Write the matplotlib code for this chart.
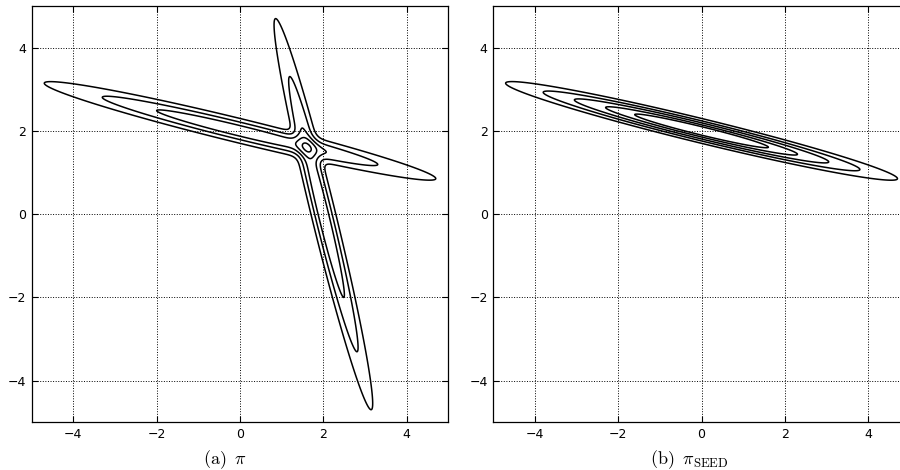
import numpy as np
import matplotlib
matplotlib.use("Agg")
import matplotlib.pyplot as plt

plt.rcParams['mathtext.fontset'] = 'cm'

# two elongated gaussian components (peak normalised to 1)
mean_x = [0.0, 2.0]
mean_y = [2.0, 0.0]
angle_deg = [-13.75, -76.25]
sigma_major = [2.5, 2.5]
sigma_minor = [0.15, 0.15]
weights_a = [0.5, 0.5]

# contour levels
levels_a = [0.077, 0.198, 0.356, 0.53, 0.73]
levels_b = [0.1535, 0.294, 0.454, 0.638, 0.804]

ticks = [-4, -2, 0, 2, 4]
captions = [r'$\mathrm{(a)}\;\;\pi$', r'$\mathrm{(b)}\;\;\pi_{\mathrm{SEED}}$']


def component(X, Y, i):
    th = np.deg2rad(angle_deg[i])
    dx, dy = X - mean_x[i], Y - mean_y[i]
    u = dx * np.cos(th) + dy * np.sin(th)
    v = -dx * np.sin(th) + dy * np.cos(th)
    return np.exp(-0.5 * ((u / sigma_major[i]) ** 2 + (v / sigma_minor[i]) ** 2))


g = np.linspace(-5, 5, 1200)
X, Y = np.meshgrid(g, g)
Z_a = weights_a[0] * component(X, Y, 0) + weights_a[1] * component(X, Y, 1)
Z_b = component(X, Y, 0)

fig = plt.figure(figsize=(9, 4.7), dpi=100)
ax1 = fig.add_axes([0.0352, 0.1015, 0.463, 0.8857])
ax2 = fig.add_axes([0.548, 0.1015, 0.463, 0.8857])

for ax, Z, lev in [(ax1, Z_a, levels_a), (ax2, Z_b, levels_b)]:
    ax.contour(X, Y, Z, levels=lev, colors='k', linewidths=1.1)
    ax.set_xlim(-5, 5)
    ax.set_ylim(-5, 5)
    ax.set_xticks(ticks)
    ax.set_yticks(ticks)
    ax.grid(True, color='k', linestyle=':', linewidth=0.7)
    ax.tick_params(direction='in', top=True, right=True, length=4, width=0.8,
                   labelsize=9, pad=4)
    for s in ax.spines.values():
        s.set_linewidth(0.9)

fig.text(203 / 900, 1 - 464 / 470, captions[0], fontsize=13, ha='left', va='baseline')
fig.text(650 / 900, 1 - 464 / 470, captions[1], fontsize=13, ha='left', va='baseline')

fig.savefig('out.png', dpi=100)
